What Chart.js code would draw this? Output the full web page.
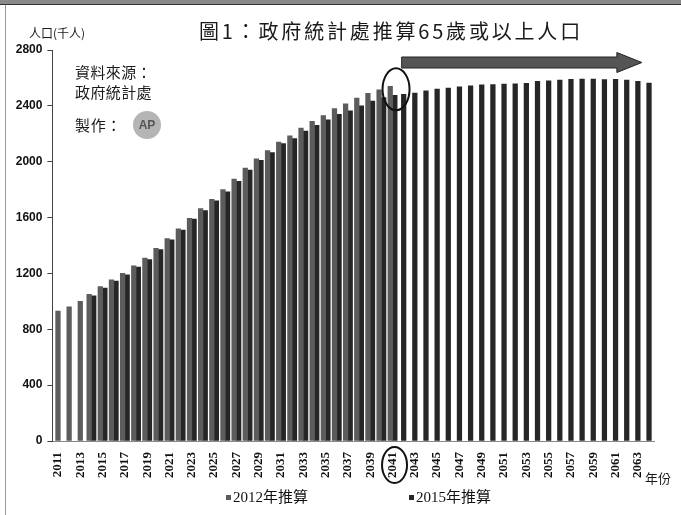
<!DOCTYPE html>
<html lang="zh-Hant">
<head>
<meta charset="UTF-8">
<title>政府統計處推算65歲或以上人口</title>
<script src="https://cdn.jsdelivr.net/npm/chart.js"></script>
<style>
    html, body { margin: 0; padding: 0; background: #fff; }
    #wrap { width: 681px; height: 515px; position: relative; }
</style>
</head>
<body>
<div id="wrap"><canvas id="chart" width="681" height="515"></canvas></div>
<script>
    // categories: every year 2011 - 2064
    const years = [];
    for (let y = 2011; y <= 2064; y++) years.push(String(y));

    // 2012-based projection, 2011 - 2041 (thousands)
    const start2012 = 2011;
    const proj2012 = [930, 960, 1000, 1050, 1105, 1155, 1200, 1255, 1310, 1380,
        1450, 1520, 1595, 1665, 1730, 1800, 1875, 1955, 2020, 2080,
        2140, 2185, 2240, 2290, 2330, 2380, 2415, 2455, 2490, 2515, 2540];

    // 2015-based projection, 2014 - 2064 (thousands)
    const start2015 = 2014;
    const proj2015 = [1040, 1095, 1145, 1190, 1245, 1300, 1370, 1440, 1510, 1590,
        1650, 1720, 1785, 1860, 1940, 2010, 2065, 2130, 2165, 2220,
        2260, 2300, 2340, 2365, 2400, 2435, 2460, 2475, 2482, 2492,
        2508, 2520, 2528, 2537, 2544, 2550, 2553, 2556, 2558, 2562,
        2575, 2580, 2584, 2590, 2592, 2592, 2588, 2590, 2584, 2575, 2563];

    const seriesNames = ['2012年推算', '2015年推算'];
    const yTicks = [0, 400, 800, 1200, 1600, 2000, 2400, 2800];

    const color2012 = '#5c5c5c';
    const color2015 = '#262626';

    function align(values, startYear) {
        return years.map(y => {
            const i = Number(y) - startYear;
            return (i >= 0 && i < values.length) ? values[i] : null;
        });
    }

    const serif = "'Liberation Serif', 'Noto Sans CJK TC', serif";
    const cjk = "'Noto Sans CJK TC', sans-serif";

    function fitText(ctx, text, x, y, width) {
        ctx.letterSpacing = '0px';
        const w = ctx.measureText(text).width;
        const n = [...text].length;
        ctx.letterSpacing = ((width - w) / n) + 'px';
        ctx.fillText(text, x, y);
        ctx.letterSpacing = '0px';
    }

    const decor = {
        id: 'decor',
        afterDraw(chart) {
            const ctx = chart.ctx;
            const xs = chart.scales.x, ys = chart.scales.y;
            ctx.save();

            // frame
            ctx.fillStyle = '#8a8a8a';
            ctx.fillRect(0, 0, 681, 4);
            ctx.fillStyle = '#333';
            ctx.fillRect(0, 4, 681, 1);
            ctx.fillStyle = '#999';
            ctx.fillRect(5, 5, 1, 510);

            ctx.fillStyle = '#1a1a1a';
            ctx.textBaseline = 'middle';
            ctx.textAlign = 'left';

            // title
            ctx.font = '20px ' + cjk;
            fitText(ctx, '圖1：政府統計處推算65歲或以上人口', 199, 31, 384);

            // axis unit
            ctx.font = '12px ' + cjk;
            ctx.fillText('人口(千人)', 29, 33);

            // source note
            ctx.font = '15px ' + cjk;
            fitText(ctx, '資料來源：', 75, 72, 77);
            fitText(ctx, '政府統計處', 75, 92, 77);
            fitText(ctx, '製作：', 75, 125, 47);

            // logo placeholder
            ctx.fillStyle = '#b5b5b5';
            ctx.beginPath();
            ctx.arc(147, 125, 14, 0, Math.PI * 2);
            ctx.fill();
            ctx.fillStyle = '#555';
            ctx.font = 'bold 12px ' + "'Liberation Sans', sans-serif";
            ctx.textAlign = 'center';
            ctx.fillText('AP', 147, 126);

            // arrow
            const ax0 = xs.getPixelForValue(31) - 2;
            const ax1 = xs.getPixelForValue(52) + 4;
            const ay = 62.5;
            ctx.fillStyle = '#555';
            ctx.strokeStyle = '#222';
            ctx.lineWidth = 1;
            ctx.beginPath();
            ctx.moveTo(ax0, ay - 5.5);
            ctx.lineTo(ax1 - 25, ay - 5.5);
            ctx.lineTo(ax1 - 25, ay - 10);
            ctx.lineTo(ax1, ay);
            ctx.lineTo(ax1 - 25, ay + 10);
            ctx.lineTo(ax1 - 25, ay + 5.5);
            ctx.lineTo(ax0, ay + 5.5);
            ctx.closePath();
            ctx.fill();
            ctx.stroke();

            // circles around 2041
            const cx = xs.getPixelForValue(30);
            ctx.strokeStyle = '#111';
            ctx.lineWidth = 2;
            ctx.beginPath();
            ctx.ellipse(cx + 3.5, ys.getPixelForValue(2540) + 3, 13.5, 21, 0, 0, Math.PI * 2);
            ctx.stroke();
            ctx.beginPath();
            ctx.ellipse(cx + 2, 465, 12.5, 18, 0, 0, Math.PI * 2);
            ctx.stroke();

            // x axis unit
            ctx.fillStyle = '#1a1a1a';
            ctx.textAlign = 'left';
            ctx.font = '13px ' + cjk;
            ctx.fillText('年份', 645, 478);

            // legend
            const items = [[seriesNames[0], color2012, 226], [seriesNames[1], color2015, 409]];
            items.forEach(([name, col, lx]) => {
                ctx.fillStyle = col;
                ctx.fillRect(lx, 495, 5, 5);
                ctx.fillStyle = '#111';
                ctx.font = '15px ' + serif;
                ctx.fillText(name, lx + 7, 498);
            });

            ctx.restore();
        }
    };

    const ctx = document.getElementById('chart').getContext('2d');
    new Chart(ctx, {
        type: 'bar',
        data: {
            labels: years,
            datasets: [
                { label: seriesNames[0], data: align(proj2012, start2012), backgroundColor: color2012 },
                { label: seriesNames[1], data: align(proj2015, start2015), backgroundColor: color2015 }
            ]
        },
        options: {
            responsive: false,
            animation: false,
            datasets: { bar: { barThickness: 4.6, skipNull: true } },
            layout: { padding: { left: 4, right: 26.4, top: 50, bottom: 0 } },
            plugins: {
                legend: { display: false },
                title: { display: false },
                tooltip: { enabled: false }
            },
            scales: {
                x: {
                    grid: { display: false, drawTicks: false },
                    border: { display: true, color: '#888' },
                    ticks: {
                        autoSkip: false,
                        minRotation: 90,
                        maxRotation: 90,
                        padding: 11,
                        color: '#111',
                        font: { family: serif, size: 13, weight: 'bold' },
                        callback: (v, i) => (i % 2 === 0 ? years[i] : '')
                    },
                    afterFit: s => { s.height = 74; }
                },
                y: {
                    min: 0,
                    max: 2800,
                    afterBuildTicks: s => { s.ticks = yTicks.map(v => ({ value: v })); },
                    grid: { drawOnChartArea: false, tickLength: 5, color: '#444' },
                    border: { color: '#444' },
                    ticks: {
                        padding: 5,
                        color: '#111',
                        font: { family: "'Liberation Sans', sans-serif", size: 12, weight: 'bold' },
                        callback: v => String(v)
                    },
                    afterFit: s => { s.width = 48.4; }
                }
            }
        },
        plugins: [decor]
    });
</script>
</body>
</html>
